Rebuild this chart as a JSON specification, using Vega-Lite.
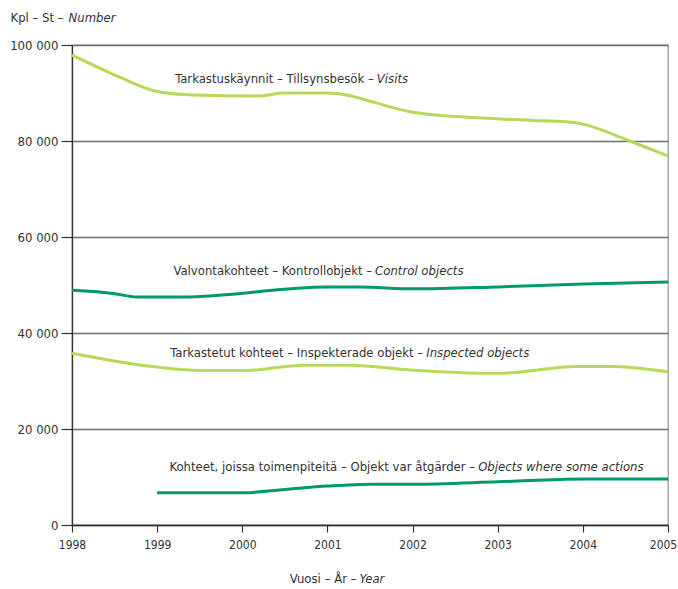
{
  "$schema": "https://vega.github.io/schema/vega-lite/v6.json",
  "autosize": {"type": "none"},
  "padding": {"left": 72, "top": 45, "right": 10, "bottom": 64},
  "width": 596,
  "height": 480,
  "background": "white",
  "config": {
    "font": "DejaVu Sans Condensed, sans-serif",
    "view": {"stroke": "#9a9a9a", "strokeWidth": 1.3},
    "axis": {"labelFont": "DejaVu Sans Condensed, sans-serif", "titleFont": "DejaVu Sans Condensed, sans-serif"}
  },
  "datasets": {
    "lines": [
      {"series": "Visits", "year": 1998.0, "value": 97900},
      {"series": "Visits", "year": 1998.25, "value": 95800},
      {"series": "Visits", "year": 1998.56, "value": 93300},
      {"series": "Visits", "year": 1999.03, "value": 90200},
      {"series": "Visits", "year": 1999.42, "value": 89600},
      {"series": "Visits", "year": 2000.21, "value": 89400},
      {"series": "Visits", "year": 2000.48, "value": 90000},
      {"series": "Visits", "year": 2001.0, "value": 90000},
      {"series": "Visits", "year": 2002.0, "value": 86000},
      {"series": "Visits", "year": 2003.03, "value": 84600},
      {"series": "Visits", "year": 2003.53, "value": 84200},
      {"series": "Visits", "year": 2003.81, "value": 84000},
      {"series": "Visits", "year": 2004.05, "value": 83300},
      {"series": "Visits", "year": 2004.28, "value": 81900},
      {"series": "Visits", "year": 2004.55, "value": 80000},
      {"series": "Visits", "year": 2005.0, "value": 76900},
      {"series": "Control", "year": 1998.0, "value": 48900},
      {"series": "Control", "year": 1998.5, "value": 48200},
      {"series": "Control", "year": 1998.76, "value": 47500},
      {"series": "Control", "year": 1999.3, "value": 47500},
      {"series": "Control", "year": 2001.0, "value": 49600},
      {"series": "Control", "year": 2001.38, "value": 49600},
      {"series": "Control", "year": 2002.0, "value": 49200},
      {"series": "Control", "year": 2003.0, "value": 49600},
      {"series": "Control", "year": 2004.0, "value": 50200},
      {"series": "Control", "year": 2005.0, "value": 50600},
      {"series": "Inspected", "year": 1998.0, "value": 35800},
      {"series": "Inspected", "year": 1999.0, "value": 32900},
      {"series": "Inspected", "year": 1999.5, "value": 32200},
      {"series": "Inspected", "year": 2000.06, "value": 32200},
      {"series": "Inspected", "year": 2000.71, "value": 33300},
      {"series": "Inspected", "year": 2001.27, "value": 33300},
      {"series": "Inspected", "year": 2001.97, "value": 32300},
      {"series": "Inspected", "year": 2003.0, "value": 31600},
      {"series": "Inspected", "year": 2003.93, "value": 33000},
      {"series": "Inspected", "year": 2004.32, "value": 33000},
      {"series": "Inspected", "year": 2005.0, "value": 31900},
      {"series": "Actions", "year": 1999.0, "value": 6700},
      {"series": "Actions", "year": 2000.0, "value": 6700},
      {"series": "Actions", "year": 2000.5, "value": 7400},
      {"series": "Actions", "year": 2001.0, "value": 8100},
      {"series": "Actions", "year": 2001.5, "value": 8500},
      {"series": "Actions", "year": 2002.0, "value": 8500},
      {"series": "Actions", "year": 2003.0, "value": 9000},
      {"series": "Actions", "year": 2004.0, "value": 9600},
      {"series": "Actions", "year": 2005.0, "value": 9600}
    ],
    "labels": [
      {"year": 2001.58, "value": 92900, "plain": "Tarkastuskäynnit – Tillsynsbesök –", "italic": "Visits"},
      {"year": 2001.56, "value": 52900, "plain": "Valvontakohteet – Kontrollobjekt –", "italic": "Control objects"},
      {"year": 2002.16, "value": 35800, "plain": "Tarkastetut kohteet – Inspekterade objekt –", "italic": "Inspected objects"},
      {"year": 2002.77, "value": 12100, "plain": "Kohteet, joissa toimenpiteitä – Objekt var åtgärder –", "italic": "Objects where some actions"}
    ]
  },
  "resolve": {"axis": {"x": "independent", "y": "independent"}},
  "layer": [
    {
      "data": {"name": "lines"},
      "mark": {"type": "line", "interpolate": "monotone", "strokeWidth": 3},
      "encoding": {
        "x": {
          "field": "year", "type": "quantitative",
          "scale": {"domain": [1998, 2005], "nice": false, "zero": false},
          "axis": {
            "values": [1998, 1999, 2000, 2001, 2002, 2003, 2004, 2005],
            "format": "d", "grid": false, "labelFlush": false, "labelOverlap": false, "labelBound": false,
            "labelOffset": {"expr": "datum.value == 2005 ? -5 : 0"},
            "tickSize": 7, "tickColor": "#333", "tickWidth": 1.2,
            "domainColor": "#333", "domainWidth": 1.3,
            "labelFontSize": 12, "labelColor": "#333", "labelPadding": 7,
            "title": "Vuosi – År –", "titleFontWeight": "normal", "titleFontSize": 13, "titleColor": "#333",
            "titleAlign": "right", "titleAnchor": null, "titleX": 284, "titleY": 53, "titleBaseline": "middle"
          }
        },
        "y": {
          "field": "value", "type": "quantitative",
          "scale": {"domain": [0, 100000], "nice": false},
          "axis": {
            "values": [0, 20000, 40000, 60000, 80000, 100000],
            "labelExpr": "replace(format(datum.value, ','), ',', ' ')",
            "grid": true, "gridColor": "#6e6e6e", "gridWidth": 1.3,
            "tickSize": 11, "tickColor": "#333", "tickWidth": 1.2,
            "domainColor": "#333", "domainWidth": 1.3,
            "labelFontSize": 13, "labelColor": "#333", "labelPadding": 3,
            "title": "Kpl – St –", "titleFontWeight": "normal", "titleFontSize": 13, "titleColor": "#333",
            "titleAngle": 0, "titleAlign": "left", "titleAnchor": null, "titleX": -62, "titleY": -28, "titleBaseline": "middle"
          }
        },
        "color": {
          "field": "series", "type": "nominal",
          "scale": {"domain": ["Visits", "Control", "Inspected", "Actions"], "range": ["#b6d957", "#009a6a", "#b6d957", "#009a6a"]},
          "legend": null
        }
      }
    },
    {
      "data": {"name": "labels"},
      "mark": {"type": "text", "align": "right", "baseline": "middle", "fontSize": 13, "color": "#333", "dx": -3},
      "encoding": {
        "x": {"field": "year", "type": "quantitative", "axis": null},
        "y": {"field": "value", "type": "quantitative", "axis": null},
        "text": {"field": "plain"}
      }
    },
    {
      "data": {"name": "labels"},
      "mark": {"type": "text", "align": "left", "baseline": "middle", "fontSize": 13, "fontStyle": "italic", "color": "#333"},
      "encoding": {
        "x": {
          "field": "year", "type": "quantitative",
          "axis": {
            "orient": "bottom", "labels": false, "ticks": false, "domain": false, "grid": false,
            "title": "Year", "titleFontStyle": "italic", "titleFontWeight": "normal", "titleFontSize": 13, "titleColor": "#333",
            "titleAlign": "left", "titleAnchor": null, "titleX": 287, "titleY": 53, "titleBaseline": "middle"
          }
        },
        "y": {
          "field": "value", "type": "quantitative",
          "axis": {
            "orient": "left", "labels": false, "ticks": false, "domain": false, "grid": false,
            "title": "Number", "titleFontStyle": "italic", "titleFontWeight": "normal", "titleFontSize": 13, "titleColor": "#333",
            "titleAngle": 0, "titleAlign": "left", "titleAnchor": null, "titleX": -4, "titleY": -28, "titleBaseline": "middle"
          }
        },
        "text": {"field": "italic"}
      }
    }
  ]
}
